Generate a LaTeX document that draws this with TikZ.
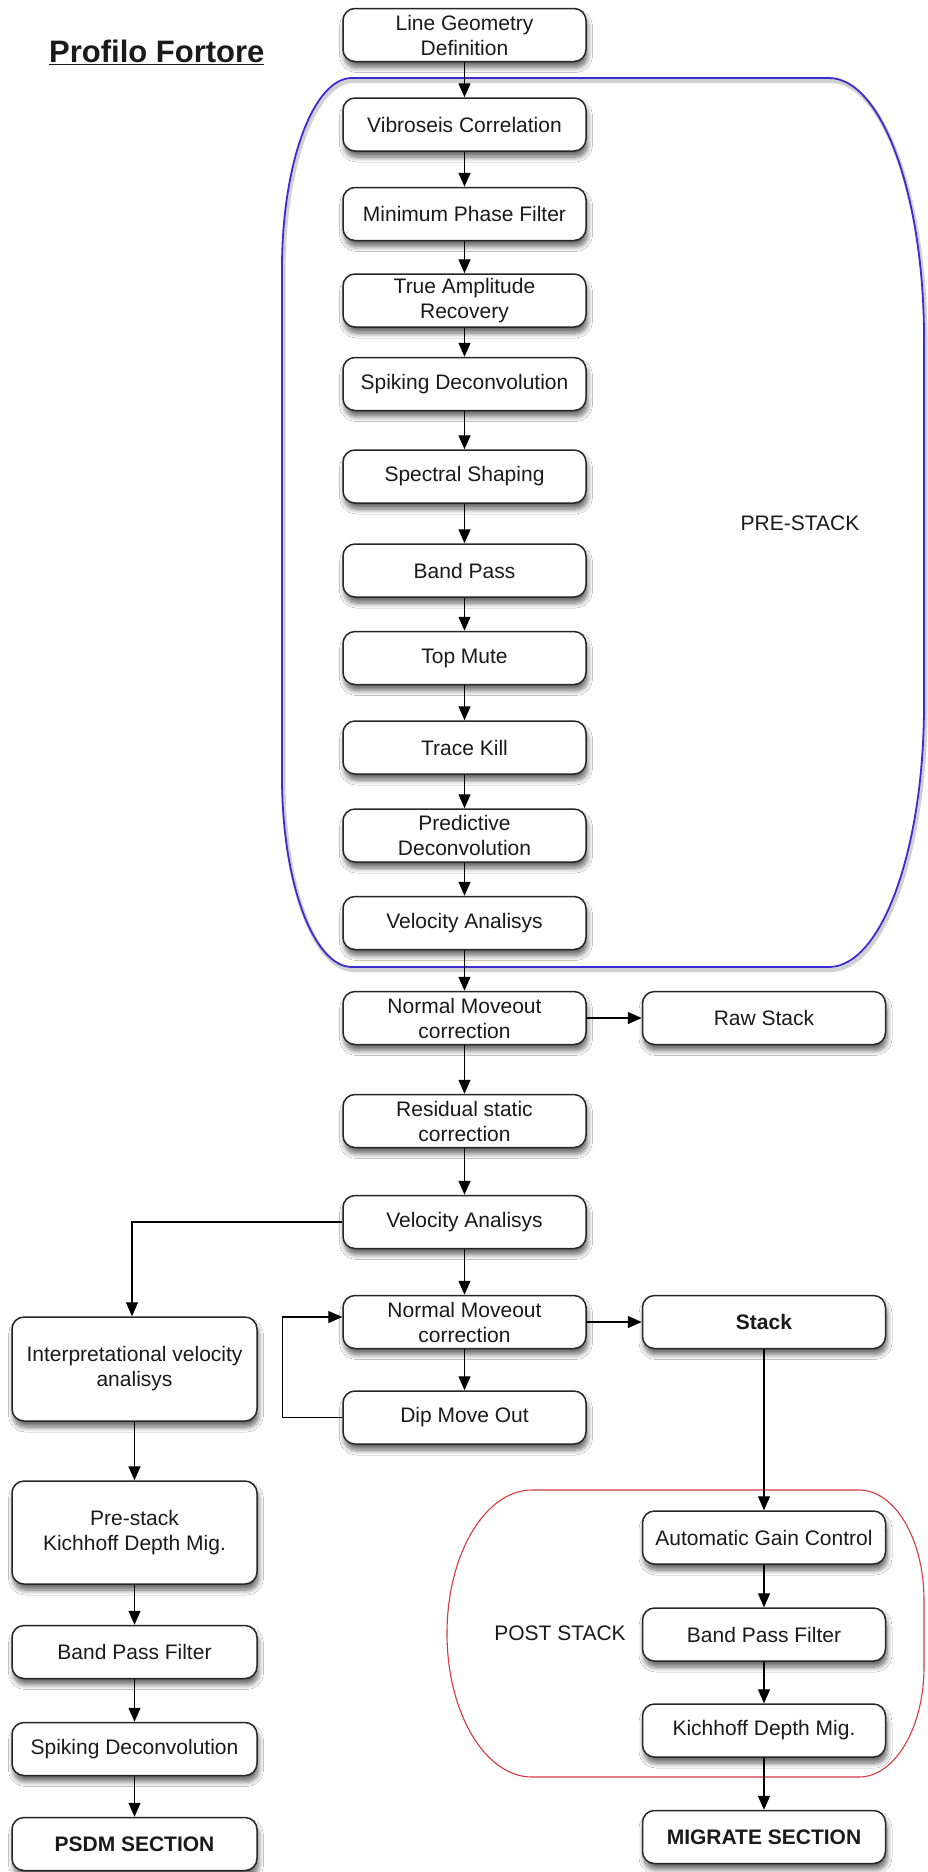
\documentclass[tikz,border=0pt]{standalone}
\usepackage{fontspec}
\setmainfont{Liberation Sans}
\usetikzlibrary{arrows.meta,calc,shadows.blur}
\definecolor{txt}{HTML}{1A1A1A}
\definecolor{bluel}{HTML}{3B2BD0}
\definecolor{redl}{HTML}{D43A40}
\tikzset{
 box/.style={draw=black!85, line width=1.5pt, rounded corners=12pt, fill=white,
   minimum width=243pt, minimum height=53pt, inner sep=0pt, align=center, text=txt,
   font=\fontsize{21}{25}\selectfont,
   blur shadow={shadow xshift=1.5pt, shadow yshift=-6pt, shadow opacity=60, shadow blur steps=8, shadow blur radius=5pt}},
 lbox/.style={box, minimum width=245pt},
 arr/.style={line width=1.4pt, draw=black, -{Triangle[length=14pt,width=12pt]}},
 lbl/.style={text=txt, font=\fontsize{21}{25}\selectfont, inner sep=0pt},
}
\begin{document}
\begin{tikzpicture}[x=1pt,y={(0pt,-1pt)}]
\useasboundingbox (0,0) rectangle (927,1872);
\fill[white] (0,0) rectangle (927,1872);

% PRE-STACK outline
\begin{scope}[shift={(1.5,3)}]
\draw[black, opacity=0.18, line width=4pt]
 (352,78) -- (829,78) .. controls (881.4,78) and (924,194.5) .. (924,338)
 -- (924,705) .. controls (924,849.6) and (881.4,967) .. (829,967)
 -- (352,967) .. controls (313.4,967) and (282,881.9) .. (282,777)
 -- (282,268) .. controls (282,163.1) and (313.4,78) .. (352,78) -- cycle;
\end{scope}
\draw[bluel, line width=1.8pt]
 (352,78) -- (829,78) .. controls (881.4,78) and (924,194.5) .. (924,338)
 -- (924,705) .. controls (924,849.6) and (881.4,967) .. (829,967)
 -- (352,967) .. controls (313.4,967) and (282,881.9) .. (282,777)
 -- (282,268) .. controls (282,163.1) and (313.4,78) .. (352,78) -- cycle;
\node[lbl] (pre) at (800,523) {PRE-STACK};

% POST STACK outline
\draw[redl, line width=1.1pt]
 (532,1490) -- (859,1490) .. controls (894.9,1490) and (924,1539.3) .. (924,1600)
 -- (924,1667) .. controls (924,1727.7) and (894.9,1777) .. (859,1777)
 -- (532,1777) .. controls (485.1,1777) and (447,1712.7) .. (447,1633.5)
 .. controls (447,1554.3) and (485.1,1490) .. (532,1490) -- cycle;
\node[lbl] (post) at (560,1633) {POST STACK};

% title
\node[anchor=base west, inner sep=0pt, text=txt, font=\fontsize{31}{36}\selectfont\bfseries] (title) at (49,62) {\underline{Profilo Fortore}};

% main column
\node[box] (lgd) at (464.5,35) {Line Geometry\\Definition};
\node[box] (vc) at (464.5,124.5) {Vibroseis Correlation};
\node[box] (mpf) at (464.5,214) {Minimum Phase Filter};
\node[box] (tar) at (464.5,300.5) {True Amplitude\\Recovery};
\node[box] (sd) at (464.5,384) {Spiking Deconvolution};
\node[box] (ss) at (464.5,476.5) {Spectral Shaping};
\node[box] (bp) at (464.5,570.5) {Band Pass};
\node[box] (tm) at (464.5,658) {Top Mute};
\node[box] (tk) at (464.5,747.5) {Trace Kill};
\node[box] (pd) at (464.5,835.5) {Predictive\\Deconvolution};
\node[box] (va) at (464.5,923) {Velocity Analisys};
\node[box] (nmoa) at (464.5,1018) {Normal Moveout\\correction};
\node[box] (rsc) at (464.5,1121) {Residual static\\correction};
\node[box] (vb) at (464.5,1222) {Velocity Analisys};
\node[box] (nmob) at (464.5,1322) {Normal Moveout\\correction};
\node[box] (dmo) at (464.5,1417.5) {Dip Move Out};

% right column
\node[box] (raw) at (764,1018) {Raw Stack};
\node[box, font=\fontsize{21}{25}\selectfont\bfseries] (stack) at (764,1322) {Stack};
\node[box] (agc) at (764,1537.5) {Automatic Gain Control};
\node[box] (bpfr) at (764,1634.5) {Band Pass Filter};
\node[box] (kdmr) at (764,1730.5) {Kichhoff Depth Mig.};
\node[box, font=\fontsize{21}{25}\selectfont\bfseries] (mig) at (764,1837) {MIGRATE SECTION};

% left column
\node[lbox, minimum height=104pt] (interp) at (134.5,1369) {Interpretational velocity\\analisys};
\node[lbox, minimum height=103pt] (pkdm) at (134.5,1532.5) {Pre-stack\\Kichhoff Depth Mig.};
\node[lbox] (bpfl) at (134.5,1652) {Band Pass Filter};
\node[lbox] (sdl) at (134.5,1749) {Spiking Deconvolution};
\node[lbox, font=\fontsize{21}{25}\selectfont\bfseries] (psdm) at (134.5,1844) {PSDM SECTION};

% connectors
\foreach \a/\b in {lgd/vc, vc/mpf, mpf/tar, tar/sd, sd/ss, ss/bp, bp/tm, tm/tk, tk/pd, pd/va, va/nmoa, nmoa/rsc, rsc/vb, vb/nmob, nmob/dmo}
  \draw[arr] (\a.south) -- (\b.north);
\draw[arr] (nmoa.east) -- (raw.west);
\draw[arr] (nmob.east) -- (stack.west);
\draw[arr] (dmo.west) -- ++(-60,0) |- ($(nmob.west)+(0,-5)$);
\draw[arr] (vb.west) -| ($(interp.north)+(-2.5,0)$);
\draw[arr] (stack.south) -- (agc.north);
\foreach \a/\b in {agc/bpfr, bpfr/kdmr, kdmr/mig, interp/pkdm, pkdm/bpfl, bpfl/sdl, sdl/psdm}
  \draw[arr] (\a.south) -- (\b.north);
\end{tikzpicture}
\end{document}
